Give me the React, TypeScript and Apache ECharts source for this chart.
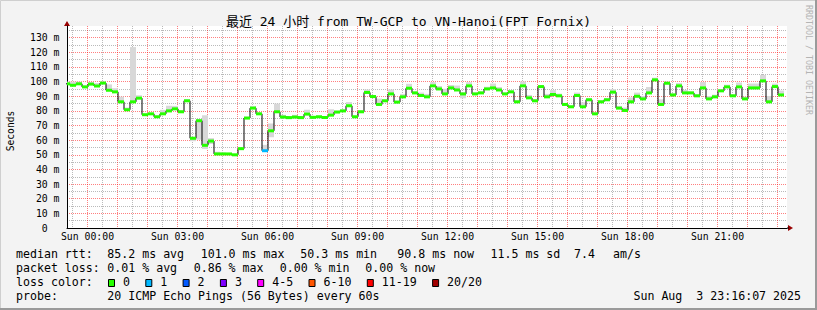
import React, { useEffect, useRef } from "react";
import * as echarts from "echarts";

const FONT = "'DejaVu Sans Mono', 'Noto Sans CJK SC', monospace";

const chartTitle = "最近 24 小时 from TW-GCP to VN-Hanoi(FPT Fornix)";
const yAxisName = "Seconds";
const sideNote = "RRDTOOL / TOBI OETIKER";

// time axis: minutes relative to Sun 00:00
const axisStartMinute = -41;
const axisEndMinute = 1399;
const firstStepMinute = -47;
const stepMinutes = 12;
const hourLabelEvery = 3;

// median RTT (ms), one value per step
const medianMs = [
  98.5, 97.5, 98.5, 96.4, 98.3, 97.0, 99.0, 94.1, 93.0, 86.2, 80.8, 86.2, 88.7, 77.4, 78.0, 76.0, 78.0, 80.0, 81.4, 79.4, 86.9,
  61.3, 73.3, 56.5, 59.4, 50.6, 50.6, 50.6, 50.0, 54.2, 75.1, 81.9, 78.0, 52.8, 66.4, 79.4, 75.8, 75.4, 75.8, 75.4, 77.8,
  75.6, 76.0, 75.5, 77.1, 79.2, 80.0, 83.5, 76.0, 79.4, 92.6, 89.8, 84.4, 86.9, 91.6, 86.0, 89.6, 95.5, 92.3, 90.5, 89.6,
  97.1, 95.0, 91.6, 95.7, 94.3, 91.6, 97.1, 91.6, 92.3, 95.0, 95.7, 94.3, 91.6, 93.0, 86.2, 97.1, 88.9, 86.9, 96.6, 89.6,
  91.2, 90.3, 84.4, 82.8, 90.5, 82.8, 87.6, 78.0, 86.2, 87.6, 92.8, 81.9, 80.3, 86.2, 90.0, 88.2, 92.3, 101.2, 84.4, 98.9,
  90.9, 97.1, 92.3, 92.3, 90.3, 95.7, 88.2, 89.6, 93.7, 96.4, 90.3, 96.4, 88.2, 95.7, 95.7, 100.5, 86.2, 96.6, 90.9,
];

// smoke spread above / below the median (ms)
const smokeAbove = [
  1.5, 2.5, 1.5, 1, 1.5, 2, 1, 4, 2.5, 3.5, 1.5, 37.4, 2, 0.5, 0.5, 0.5, 2.7, 3.5, 2, 1, 1,
  1, 1, 20.5, 2, 1.5, 1, 0.5, 0.5, 0.5, 1, 1.5, 1, 4, 5, 5.6, 1.5, 1, 1.5, 1, 3,
  1, 0.5, 0.5, 4, 1, 1, 2.5, 0.5, 1, 2, 1, 4, 1, 3, 1, 2, 3, 1, 2, 2,
  2.5, 2, 3.5, 2, 3, 1, 2.5, 1, 1, 1.5, 3, 2, 1, 1, 1, 3, 2, 1, 1, 2,
  3, 1.5, 1, 1, 2, 3, 1, 1, 1, 1, 2, 1.5, 2, 3, 2.5, 2, 4, 1.5, 3.5, 1,
  1, 2, 2, 1, 1, 4, 2, 1.5, 1, 1.5, 1, 3, 1.5, 3, 3, 4, 4, 2, 3,
];
const smokeBelow = [
  0.5, 0.5, 0.5, 0.5, 0.5, 0.5, 0.5, 0.5, 0.5, 0.5, 0.5, 0.5, 0.5, 0.5, 0.5, 0.5, 0.5, 0.5, 0.5, 0.5, 0.5,
  2, 13, 2.5, 2, 0.5, 0.5, 0.5, 0.5, 0.5, 0.5, 0.5, 0.5, 0.5, 4.4, 0.5, 0.5, 0.5, 0.5, 0.5, 0.5,
  0.5, 0.5, 0.5, 0.5, 0.5, 0.5, 0.5, 0.5, 0.5, 0.5, 0.5, 0.5, 0.5, 0.5, 0.5, 0.5, 0.5, 0.5, 0.5, 0.5,
  0.5, 0.5, 0.5, 0.5, 0.5, 3, 0.5, 0.5, 0.5, 0.5, 0.5, 0.5, 0.5, 0.5, 0.5, 0.5, 0.5, 0.5, 0.5, 0.5,
  0.5, 0.5, 0.5, 0.5, 0.5, 0.5, 0.5, 0.5, 0.5, 0.5, 0.5, 0.5, 0.5, 0.5, 0.5, 0.5, 0.5, 0.5, 1, 0.5,
  0.5, 0.5, 0.5, 0.5, 0.5, 0.5, 0.5, 0.5, 0.5, 0.5, 0.5, 0.5, 0.5, 0.5, 0.5, 0.5, 0.5, 0.5, 0.5,
];
// lost pings (of 20) per step
const lostPings = [
  0, 0, 0, 0, 0, 0, 0, 0, 0, 0, 0, 0, 0, 0, 0, 0, 0, 0, 0, 0, 0,
  0, 0, 0, 0, 0, 0, 0, 0, 0, 0, 0, 0, 1, 0, 0, 0, 0, 0, 0, 0,
  0, 0, 0, 0, 0, 0, 0, 0, 0, 0, 0, 0, 0, 0, 0, 0, 0, 0, 0, 0,
  0, 0, 0, 0, 0, 0, 0, 0, 0, 0, 0, 0, 0, 0, 0, 0, 0, 0, 0, 0,
  0, 0, 0, 0, 0, 0, 0, 0, 0, 0, 0, 0, 0, 0, 0, 0, 0, 0, 0, 0,
  0, 0, 0, 0, 0, 0, 0, 0, 0, 0, 0, 0, 0, 0, 0, 0, 0, 0, 0,
];

const lossLabels = ["0", "1", "2", "3", "4-5", "6-10", "11-19", "20/20"];
const lossUpper = [0, 1, 2, 3, 5, 10, 19, 20];
const lossColors = ["#26ff00", "#00b8ff", "#0059ff", "#7e00ff", "#ff00ff", "#ff5500", "#ff0000", "#a10000"];

const legendRtt = [
  "median rtt:", "85.2 ms avg", "101.0 ms max", "50.3 ms min", "90.8 ms now", "11.5 ms sd", "7.4", "am/s",
];
const legendRttX = [16, 107.3, 200.7, 300.3, 397.3, 490.5, 574, 613];
const legendLoss = ["packet loss:", "0.01 % avg", "0.86 % max", "0.00 % min", "0.00 % now"];
const legendLossX = [16, 107.3, 193.7, 279.7, 365.3];
const lossColorTitle = "loss color:";
const probeTitle = "probe:";
const probeText = "20 ICMP Echo Pings (56 Bytes) every 60s";
const stampText = "Sun Aug  3 23:16:07 2025";

const GRID = { left: 67, top: 26, width: 720, height: 202 };
const Y_MAX = 138;
const MAJOR = "rgba(255,0,0,0.5)";
const MINOR = "rgba(0,0,0,0.27)";

function lossIndex(n: number) {
  for (let i = 0; i < lossUpper.length; i++) if (n <= lossUpper[i]) return i;
  return lossUpper.length - 1;
}

export default function App() {
  const ref = useRef<HTMLDivElement>(null);
  useEffect(() => {
    if (!ref.current) return;
    const chart = echarts.init(ref.current, null, { renderer: "svg" });

    const steps = medianMs.map((v, i) => {
      const s = (firstStepMinute + i * stepMinutes) / 60;
      const e = (firstStepMinute + (i + 1) * stepMinutes) / 60;
      return [s, e, v, v - smokeBelow[i], v + smokeAbove[i], lossIndex(lostPings[i])];
    });
    const lineData = steps.map((s) => [s[0], s[2]]);
    lineData.push([steps[steps.length - 1][1], steps[steps.length - 1][2]]);

    const clipTo = (shape: any, params: any) =>
      echarts.graphic.clipRectByRect(shape, {
        x: params.coordSys.x,
        y: params.coordSys.y,
        width: params.coordSys.width,
        height: params.coordSys.height,
      });

    const txt = (text: string, x: number, y: number, extra: any = {}) => ({
      type: "text",
      x,
      y,
      style: {
        text,
        fill: "#000",
        font: `11.6px ${FONT}`,
        textVerticalAlign: "middle",
        verticalAlign: "middle",
        ...extra,
      },
    });

    const graphics: any[] = [];
    // frame
    graphics.push({ type: "rect", shape: { x: 0.5, y: 0.5, width: 815, height: 308 }, style: { fill: "none", stroke: "#cfcfcf", lineWidth: 1 }, silent: true });
    graphics.push({ type: "line", shape: { x1: 816, y1: 0, x2: 816, y2: 310 }, style: { stroke: "#9a9a9a", lineWidth: 2 } });
    graphics.push({ type: "line", shape: { x1: 0, y1: 309, x2: 817, y2: 309 }, style: { stroke: "#9a9a9a", lineWidth: 2 } });
    // axis arrows
    const x0 = GRID.left, yb = GRID.top + GRID.height, xr = GRID.left + GRID.width;
    graphics.push({ type: "polygon", shape: { points: [[x0 - 3, GRID.top], [x0 + 3, GRID.top], [x0, GRID.top - 5]] }, style: { fill: "#990000" } });
    graphics.push({ type: "polygon", shape: { points: [[xr + 1, yb - 3], [xr + 1, yb + 3], [xr + 6, yb]] }, style: { fill: "#990000" } });
    graphics.push({ type: "line", shape: { x1: xr, y1: yb, x2: xr + 2, y2: yb }, style: { stroke: "#000", lineWidth: 1 } });
    // title
    graphics.push(txt(chartTitle, 408.5, 21.5, { font: `13px ${FONT}`, textAlign: "center", align: "center" }));
    // y name
    graphics.push({
      type: "text", x: 10, y: 131, rotation: Math.PI / 2,
      style: { text: yAxisName, fill: "#000", font: `9.6px ${FONT}`, textAlign: "center", align: "center", textVerticalAlign: "middle", verticalAlign: "middle" },
    });
    // side note
    graphics.push({
      type: "text", x: 808.5, y: 60, rotation: -Math.PI / 2,
      style: { text: sideNote, fill: "#b4b4b4", font: `8.3px ${FONT}`, textAlign: "center", align: "center", textVerticalAlign: "middle", verticalAlign: "middle" },
    });
    // legend lines
    legendRtt.forEach((t, i) => graphics.push(txt(t, legendRttX[i], 254)));
    legendLoss.forEach((t, i) => graphics.push(txt(t, legendLossX[i], 268.3)));
    graphics.push(txt(lossColorTitle, 16, 282.3));
    let bx = 108;
    lossLabels.forEach((lab, i) => {
      graphics.push({ type: "rect", shape: { x: bx + 0.5, y: 279.5, width: 6, height: 7 }, style: { fill: lossColors[i], stroke: "#000", lineWidth: 1 } });
      graphics.push(txt(lab, bx + 15, 282.3));
      bx += 30.3 + 7 * lab.length;
    });
    graphics.push(txt(probeTitle, 16, 296.3));
    graphics.push(txt(probeText, 107.3, 296.3));
    graphics.push(txt(stampText, 801, 296.3, { textAlign: "right", align: "right" }));

    chart.setOption({
      animation: false,
      backgroundColor: "#f3f3f3",
      grid: { ...GRID, backgroundColor: "#ffffff", show: true, borderWidth: 0, outerBoundsMode: "none" },
      xAxis: {
        type: "value",
        min: axisStartMinute / 60,
        max: axisEndMinute / 60,
        splitNumber: 24,
        minInterval: 1,
        maxInterval: 1,
        axisLine: { show: true, onZero: false, lineStyle: { color: "#000", width: 1 } },
        axisTick: { show: false },
        axisLabel: {
          interval: 0,
          showMinLabel: false,
          showMaxLabel: false,
          margin: 4,
          color: "#000",
          fontFamily: FONT,
          fontSize: 9.8,
          formatter: (v: number) => {
            const h = Math.round(v);
            if (Math.abs(v - h) > 1e-6 || h % hourLabelEvery !== 0) return "";
            return `Sun ${String(h).padStart(2, "0")}:00`;
          },
        },
        splitLine: { show: true, interval: 0, showMinLine: false, showMaxLine: false, lineStyle: { color: MAJOR, type: [1, 1], width: 1 } },
        minorTick: { show: false, splitNumber: 2 },
        minorSplitLine: { show: true, lineStyle: { color: MINOR, type: [1, 1], width: 1 } },
      },
      yAxis: {
        type: "value",
        min: 0,
        max: Y_MAX,
        interval: 10,
        axisLine: { show: true, onZero: false, lineStyle: { color: "#000", width: 1 } },
        axisTick: { show: false },
        axisLabel: {
          interval: 0,
          showMaxLabel: false,
          margin: 7.5,
          color: "#000",
          fontFamily: FONT,
          fontSize: 9.8,
          formatter: (v: number) => (v > Y_MAX - 1e-6 ? "" : v === 0 ? "0\u00a0\u00a0" : `${v} m`),
        },
        splitLine: { show: true, interval: 0, showMinLine: false, showMaxLine: false, lineStyle: { color: MAJOR, type: [1, 1], width: 1 } },
        minorTick: { show: false, splitNumber: 2 },
        minorSplitLine: { show: true, lineStyle: { color: MINOR, type: [1, 1], width: 1 } },
      },
      series: [
        {
          type: "custom",
          z: 1,
          silent: true,
          encode: { x: [0, 1], y: [3, 4] },
          data: steps,
          renderItem: (params: any, api: any) => {
            const p0 = api.coord([api.value(0), api.value(4)]);
            const p1 = api.coord([api.value(1), api.value(3)]);
            const shape = clipTo({ x: p0[0], y: p0[1], width: p1[0] - p0[0], height: p1[1] - p0[1] }, params);
            return shape ? { type: "rect", shape, style: { fill: "#d8d8d8" } } : null;
          },
        },
        {
          type: "line",
          z: 2,
          step: "end",
          symbol: "none",
          silent: true,
          clip: true,
          data: lineData,
          lineStyle: { color: "#000", width: 1 },
        },
        {
          type: "custom",
          z: 3,
          silent: true,
          encode: { x: [0, 1], y: 2 },
          data: steps,
          renderItem: (params: any, api: any) => {
            const p0 = api.coord([api.value(0), api.value(2)]);
            const p1 = api.coord([api.value(1), api.value(2)]);
            const shape = clipTo({ x: p0[0], y: p0[1] - 1.5, width: p1[0] - p0[0], height: 3 }, params);
            return shape ? { type: "rect", shape, style: { fill: lossColors[api.value(5)] } } : null;
          },
        },
      ],
      graphic: graphics,
    });
    return () => chart.dispose();
  }, []);
  return <div ref={ref} style={{ position: "fixed", left: 0, top: 0, width: 817, height: 310 }} />;
}
